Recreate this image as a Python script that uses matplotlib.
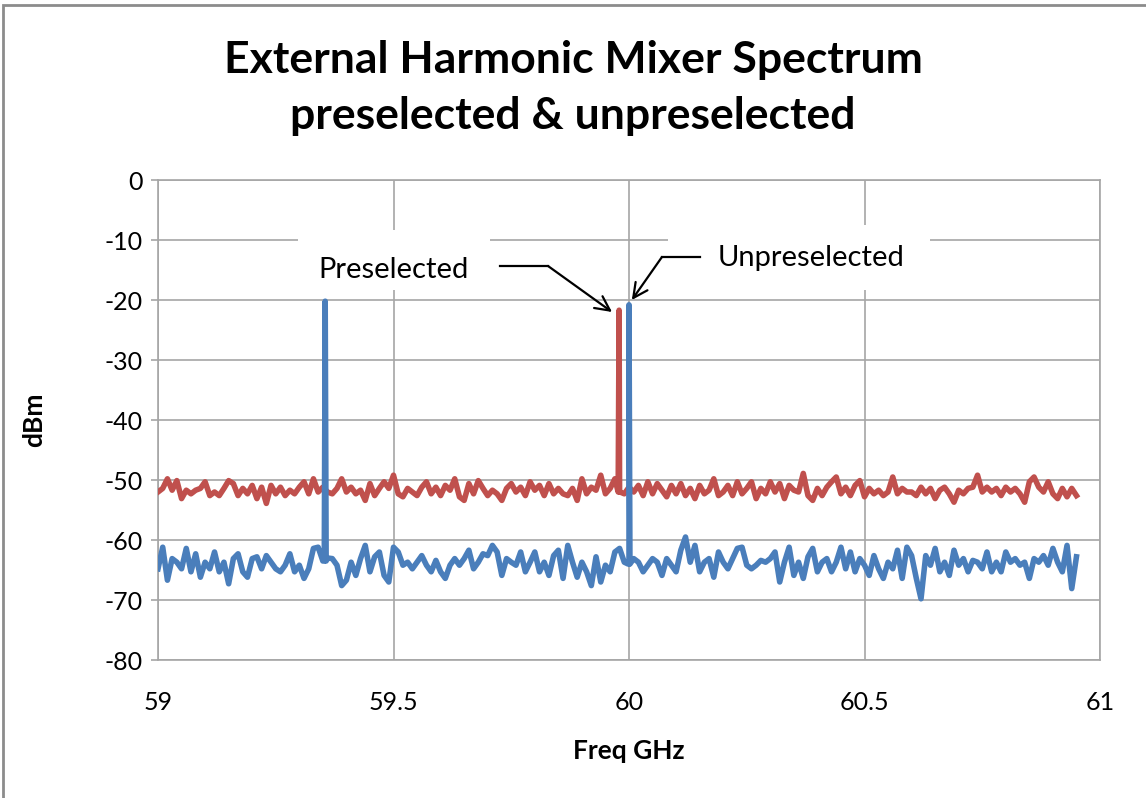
import matplotlib.pyplot as plt
from matplotlib.patches import Rectangle
import numpy as np

# noise floor, one value every 10 MHz from 59.00 to 60.95 GHz
freq = [59.0 + 0.01 * i for i in range(196)]

preselected = [
	-52.0, -51.4, -49.8, -51.7, -50.1, -53.1, -51.7, -52.3, -51.7, -51.4,
	-50.3, -52.6, -52.0, -52.6, -51.4, -50.1, -50.6, -52.6, -51.4, -52.3,
	-50.9, -53.1, -51.2, -53.9, -50.9, -52.3, -51.2, -52.6, -51.7, -52.3,
	-51.2, -50.3, -52.3, -49.8, -52.0, -51.2, -52.0, -52.3, -51.4, -49.8,
	-52.0, -51.2, -52.3, -51.7, -53.4, -50.6, -52.6, -51.4, -50.3, -51.4,
	-49.2, -52.3, -52.8, -51.4, -52.0, -52.6, -51.2, -50.3, -52.3, -51.2,
	-52.6, -50.9, -51.7, -49.8, -52.8, -53.4, -50.6, -52.3, -50.1, -51.4,
	-52.6, -51.7, -52.3, -53.4, -51.4, -50.6, -52.0, -51.2, -52.6, -50.3,
	-51.7, -50.9, -52.6, -50.6, -52.3, -51.4, -52.3, -52.6, -51.4, -53.4,
	-49.8, -52.3, -51.2, -51.7, -49.2, -52.3, -51.4, -49.8, -52.0, -52.3,
	-51.2, -52.0, -50.9, -52.6, -50.3, -52.3, -50.6, -51.7, -52.8, -50.9,
	-52.3, -50.6, -52.6, -51.4, -53.1, -50.9, -52.3, -51.7, -49.8, -52.6,
	-52.0, -50.9, -52.6, -50.3, -52.3, -51.4, -50.3, -53.1, -51.4, -52.3,
	-50.3, -52.0, -50.6, -53.1, -50.9, -51.7, -52.0, -48.9, -52.6, -53.4,
	-51.4, -52.6, -51.2, -50.3, -49.5, -52.3, -51.2, -52.6, -50.9, -50.1,
	-52.8, -51.4, -52.3, -51.7, -52.6, -52.0, -49.5, -52.3, -51.4, -52.0,
	-52.0, -52.6, -51.2, -52.3, -51.4, -53.1, -51.7, -51.2, -52.3, -53.7,
	-51.7, -52.3, -51.4, -51.2, -49.2, -52.0, -51.2, -52.0, -51.4, -52.6,
	-51.2, -52.0, -51.4, -52.3, -53.7, -50.3, -49.5, -51.2, -52.0, -50.3,
	-52.3, -53.1, -51.4, -52.8, -51.4, -52.6,
]

unpreselected = [
	-64.8, -61.2, -66.7, -63.1, -63.7, -64.8, -61.4, -65.3, -62.3, -66.2,
	-63.7, -64.8, -62.0, -65.3, -63.7, -67.3, -63.1, -62.3, -65.3, -66.2,
	-63.1, -62.8, -64.8, -62.6, -63.7, -64.8, -65.3, -64.2, -62.3, -65.3,
	-64.2, -66.4, -64.8, -61.4, -61.2, -63.5, -63.0, -63.1, -64.2, -67.6,
	-66.7, -63.7, -65.9, -63.1, -60.9, -65.3, -62.8, -62.0, -65.9, -67.0,
	-61.2, -62.0, -64.2, -63.7, -64.8, -63.7, -62.6, -64.2, -65.3, -63.4,
	-65.3, -66.4, -64.2, -63.1, -64.2, -63.1, -61.7, -64.8, -63.7, -62.3,
	-62.6, -60.9, -62.0, -65.9, -63.1, -63.7, -64.2, -62.0, -65.3, -63.7,
	-62.0, -65.3, -63.7, -65.9, -62.6, -61.7, -66.4, -60.9, -63.7, -66.2,
	-63.7, -65.3, -67.6, -62.8, -67.0, -64.2, -65.3, -62.0, -61.4, -63.7,
	-64.0, -63.1, -63.7, -65.3, -64.2, -63.1, -63.7, -65.9, -63.1, -64.2,
	-65.3, -61.7, -59.5, -63.7, -60.9, -65.3, -63.7, -63.1, -66.2, -62.0,
	-63.7, -64.8, -63.1, -61.4, -61.2, -64.2, -64.8, -64.2, -63.4, -63.7,
	-63.1, -62.0, -67.0, -63.7, -61.2, -65.9, -63.7, -66.4, -62.8, -61.4,
	-65.3, -63.7, -63.1, -65.3, -63.7, -61.2, -64.8, -62.0, -65.3, -63.1,
	-64.2, -65.9, -62.6, -64.8, -66.4, -63.7, -64.8, -61.7, -66.4, -61.2,
	-62.6, -66.4, -69.8, -62.6, -64.2, -61.4, -65.3, -63.7, -65.9, -61.7,
	-64.2, -63.1, -65.3, -63.4, -63.7, -64.8, -62.0, -65.3, -63.7, -65.3,
	-62.0, -63.7, -63.1, -64.2, -63.7, -66.4, -63.1, -63.7, -62.6, -64.2,
	-61.4, -63.7, -65.3, -60.9, -68.1, -62.8,
]

# narrow carrier lines on top of the floor
pre_spike_f = [59.977, 59.979, 59.981]
pre_spike_db = [-52.0, -21.7, -52.0]
unpre_spike_f = [59.353, 59.355, 59.357, 59.998, 60.000, 60.002]
unpre_spike_db = [-63.5, -20.2, -63.5, -64.0, -20.8, -64.0]

xticks = [59, 59.5, 60, 60.5, 61]
xticklabels = ["59", "59.5", "60", "60.5", "61"]
yticks = [0, -10, -20, -30, -40, -50, -60, -70, -80]


def merge(f, v, sf, sv):
	f2 = np.array(f + sf)
	v2 = np.array(v + sv)
	order = np.argsort(f2, kind="stable")
	return f2[order], v2[order]


pf, pv = merge(freq, preselected, pre_spike_f, pre_spike_db)
uf, uv = merge(freq, unpreselected, unpre_spike_f, unpre_spike_db)

plt.rcParams['font.family'] = ['Lato', 'DejaVu Sans']
plt.rcParams['axes.unicode_minus'] = False
gridc = "#a6a6a6"

fig = plt.figure(figsize=(11.46, 7.98), dpi=100)
ax = fig.add_axes([158/1146, 1-660/798, 942/1146, 480/798])

ax.plot(pf, pv, color="#c0504d", lw=4.0, solid_joinstyle="round", zorder=3)
ax.plot(uf, uv, color="#4a7ebb", lw=4.0, solid_joinstyle="round", zorder=4)

ax.set_xlim(59, 61)
ax.set_ylim(-80, 0)
ax.set_xticks(xticks)
ax.set_xticklabels(xticklabels)
ax.set_yticks(yticks)
ax.grid(True, color=gridc, lw=1.2)
ax.set_axisbelow(True)
for s in ax.spines.values():
	s.set_color(gridc)
	s.set_linewidth(1.2)
ax.tick_params(axis="both", colors=gridc, labelcolor="black", labelsize=18, length=5, width=1.2)
ax.tick_params(axis="x", length=0, pad=22)
ax.tick_params(axis="y", pad=6)

ax.set_xlabel("Freq GHz", fontsize=19, fontweight="bold", labelpad=18)
ax.set_ylabel("dBm", fontsize=19, fontweight="bold", labelpad=42)

fig.text(0.5, 1-60/798, "External Harmonic Mixer Spectrum", ha="center", va="center",
	fontsize=32, fontweight="bold")
fig.text(0.5, 1-116/798, "preselected & unpreselected", ha="center", va="center",
	fontsize=32, fontweight="bold")

# white text boxes that hide the grid behind the callouts
ax.add_patch(Rectangle((59.297, -18.3), 0.408, 10.0, facecolor="white", edgecolor="none", zorder=2))
ax.add_patch(Rectangle((60.083, -18.3), 0.556, 10.8, facecolor="white", edgecolor="none", zorder=2))

ax.text(59.34, -15.0, "Preselected", fontsize=21, va="center", ha="left", zorder=5)
ax.text(60.189, -13.0, "Unpreselected", fontsize=21, va="center", ha="left", zorder=5)

ax.plot([59.726, 59.828], [-14.33, -14.33], color="black", lw=1.6, zorder=5)
ax.annotate("", xy=(59.964, -22.0), xytext=(59.828, -14.33),
	arrowprops=dict(arrowstyle="->", lw=1.6, color="black", mutation_scale=26, shrinkA=0, shrinkB=0), zorder=5)
ax.plot([60.151, 60.070], [-12.83, -12.83], color="black", lw=1.6, zorder=5)
ax.annotate("", xy=(60.006, -20.0), xytext=(60.070, -12.83),
	arrowprops=dict(arrowstyle="->", lw=1.6, color="black", mutation_scale=26, shrinkA=0, shrinkB=0), zorder=5)

# chart area border
fig.add_artist(Rectangle((3/1146, -0.01), 1.1, 1-5/798+0.01, transform=fig.transFigure,
	facecolor="none", edgecolor="#8c8c8c", lw=2))

plt.savefig("out.png", dpi=100)
